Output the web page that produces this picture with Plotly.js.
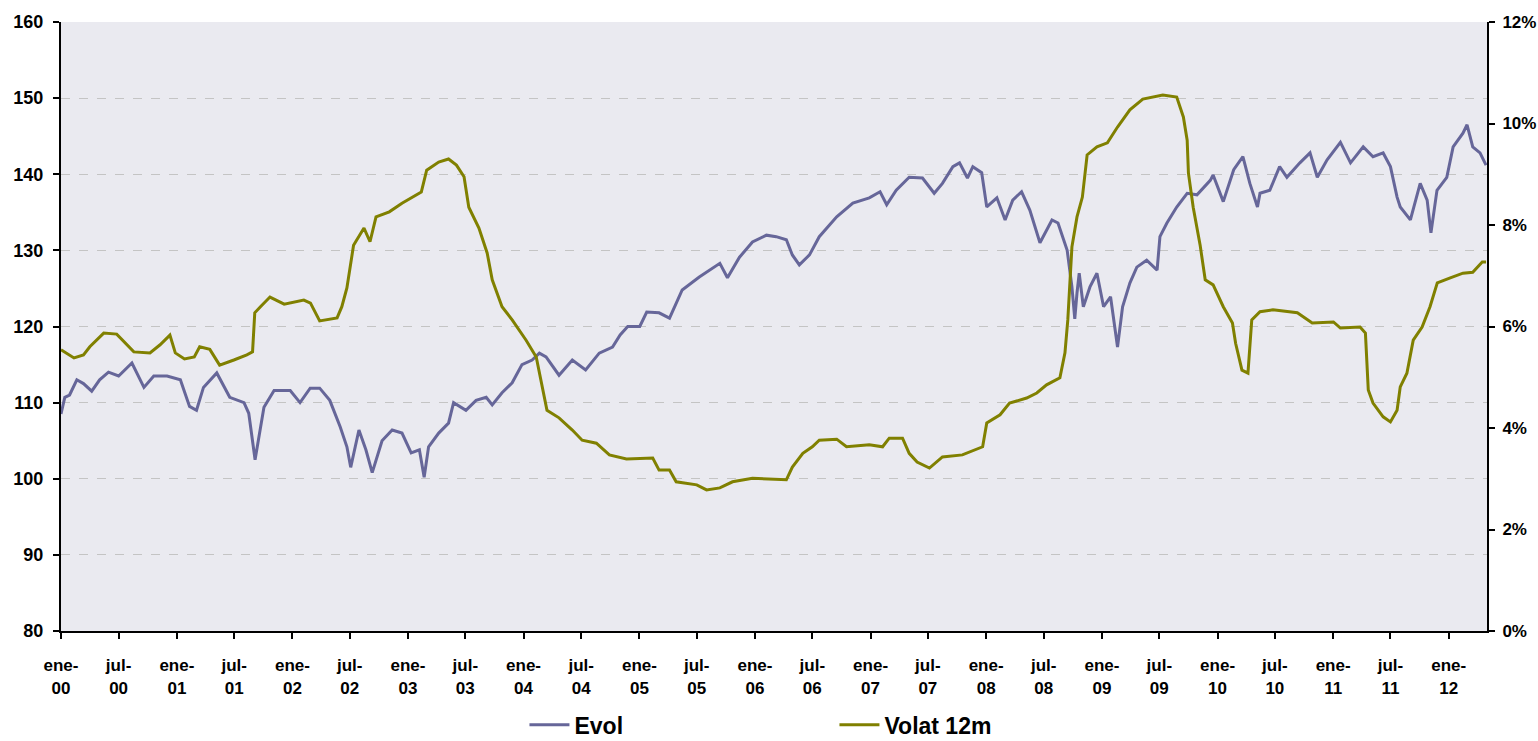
<!DOCTYPE html>
<html>
<head>
<meta charset="utf-8">
<script src="https://cdn.plot.ly/plotly-3.0.1.min.js"></script>
<style>html,body{margin:0;padding:0;background:#fff;}#chart{width:1538px;height:741px;}</style>
</head>
<body>
<div id="chart"></div>
<script>
const evolDates = ["2000-01-01","2000-01-13","2000-01-28","2000-02-20","2000-03-12","2000-04-07","2000-05-02","2000-05-30","2000-07-01","2000-08-12","2000-09-19","2000-10-20","2000-12-01","2001-01-12","2001-02-10","2001-03-04","2001-03-26","2001-05-07","2001-06-17","2001-08-01","2001-08-16","2001-09-05","2001-10-03","2001-11-04","2001-12-25","2002-01-25","2002-02-26","2002-03-28","2002-04-29","2002-06-01","2002-06-22","2002-07-04","2002-07-30","2002-08-21","2002-09-10","2002-10-11","2002-11-12","2002-12-13","2003-01-11","2003-02-06","2003-02-21","2003-03-07","2003-04-08","2003-05-09","2003-05-25","2003-07-03","2003-08-04","2003-09-05","2003-09-24","2003-10-25","2003-11-26","2003-12-27","2004-01-28","2004-02-20","2004-03-12","2004-04-22","2004-06-03","2004-07-15","2004-08-27","2004-10-08","2004-11-01","2004-11-25","2005-01-02","2005-01-24","2005-03-04","2005-04-06","2005-05-16","2005-07-09","2005-09-12","2005-10-06","2005-11-13","2005-12-24","2006-02-06","2006-03-09","2006-04-10","2006-04-29","2006-05-21","2006-06-22","2006-07-23","2006-09-16","2006-11-06","2006-12-28","2007-01-31","2007-02-21","2007-03-23","2007-05-03","2007-06-14","2007-07-21","2007-08-16","2007-09-18","2007-10-09","2007-11-03","2007-11-20","2007-12-18","2008-01-03","2008-02-04","2008-03-01","2008-03-25","2008-04-22","2008-05-18","2008-06-19","2008-07-27","2008-08-15","2008-09-13","2008-09-28","2008-10-07","2008-10-14","2008-10-21","2008-11-03","2008-11-24","2008-12-16","2009-01-06","2009-01-28","2009-02-19","2009-03-07","2009-03-30","2009-04-21","2009-05-22","2009-06-24","2009-07-03","2009-07-25","2009-08-25","2009-09-27","2009-10-28","2009-12-09","2009-12-18","2010-01-19","2010-02-21","2010-03-22","2010-04-13","2010-05-07","2010-05-15","2010-06-15","2010-07-16","2010-08-08","2010-09-18","2010-10-20","2010-11-12","2010-12-13","2011-01-24","2011-02-25","2011-04-06","2011-05-07","2011-06-08","2011-07-01","2011-07-22","2011-08-01","2011-09-02","2011-10-03","2011-10-25","2011-11-06","2011-11-25","2011-12-26","2012-01-15","2012-02-15","2012-02-28","2012-03-17","2012-04-09","2012-04-28"];
const evolValues = [108.5,110.7,111,113,112.5,111.5,113,114,113.5,115.2,112,113.5,113.5,113,109.5,109,112,113.9,110.7,110,108.6,102.5,109.4,111.6,111.6,110,111.9,111.9,110.3,106.8,104.2,101.5,106.4,103.8,100.8,105,106.4,106,103.4,103.8,100.2,104.2,106,107.3,110,109,110.3,110.7,109.7,111.3,112.6,115,115.6,116.5,116,113.6,115.6,114.3,116.5,117.3,118.9,120,120,121.9,121.8,121.1,124.8,126.5,128.3,126.4,129.1,131.1,132,131.8,131.4,129.4,128.1,129.4,131.8,134.4,136.2,136.9,137.7,136,137.9,139.6,139.5,137.5,138.8,141,141.5,139.5,141,140.2,135.7,136.9,134,136.6,137.7,135.3,131,134,133.6,130,125.2,121,124.4,127,122.6,125.2,127,122.6,123.9,117.3,122.6,125.7,127.8,128.7,127.4,131.8,133.6,135.7,137.5,137.3,139.2,139.9,136.4,140.6,142.3,138.8,135.7,137.5,137.9,141,139.6,141.5,142.8,139.6,141.9,144.2,141.5,143.6,142.3,142.8,141,137,135.7,134,138.8,136.6,132.3,137.9,139.6,143.6,145.4,146.5,143.6,142.8,141.2];

const volatDates = ["2000-01-01","2000-02-11","2000-03-12","2000-04-01","2000-05-15","2000-06-25","2000-08-18","2000-10-08","2000-11-09","2000-12-10","2000-12-27","2001-01-25","2001-02-25","2001-03-14","2001-04-15","2001-05-16","2001-06-30","2001-08-10","2001-08-28","2001-09-04","2001-09-22","2001-10-22","2001-12-06","2002-02-06","2002-02-27","2002-03-28","2002-05-22","2002-06-06","2002-06-22","2002-07-13","2002-08-15","2002-09-03","2002-09-22","2002-11-03","2002-12-13","2003-02-12","2003-03-01","2003-04-08","2003-05-09","2003-06-03","2003-06-27","2003-07-12","2003-08-13","2003-09-08","2003-09-24","2003-10-25","2003-11-26","2004-01-09","2004-02-10","2004-03-01","2004-03-15","2004-04-22","2004-06-03","2004-07-04","2004-08-18","2004-09-28","2004-11-21","2005-02-12","2005-03-04","2005-04-06","2005-04-27","2005-07-01","2005-08-01","2005-09-12","2005-10-22","2005-12-24","2006-02-17","2006-04-10","2006-04-29","2006-06-01","2006-07-01","2006-07-23","2006-09-16","2006-10-17","2006-12-28","2007-02-08","2007-03-01","2007-04-12","2007-05-03","2007-05-28","2007-07-06","2007-08-16","2007-10-18","2007-12-21","2008-01-03","2008-02-14","2008-03-15","2008-05-08","2008-06-09","2008-07-10","2008-08-21","2008-09-06","2008-09-15","2008-09-28","2008-10-14","2008-10-31","2008-11-15","2008-12-16","2009-01-18","2009-02-19","2009-03-30","2009-05-10","2009-07-12","2009-08-25","2009-09-15","2009-09-27","2009-10-01","2009-10-16","2009-11-07","2009-11-23","2009-12-18","2010-01-19","2010-02-17","2010-02-27","2010-03-19","2010-04-07","2010-04-19","2010-05-15","2010-06-25","2010-09-10","2010-10-27","2011-01-02","2011-01-24","2011-03-27","2011-04-13","2011-04-22","2011-05-07","2011-06-08","2011-07-01","2011-07-22","2011-08-01","2011-08-22","2011-09-11","2011-10-09","2011-11-03","2011-11-26","2012-01-06","2012-02-15","2012-03-17","2012-04-16","2012-04-28"];
const volatValues = [5.54,5.38,5.44,5.6,5.87,5.85,5.5,5.48,5.64,5.83,5.48,5.36,5.4,5.6,5.55,5.24,5.34,5.44,5.5,6.27,6.39,6.58,6.44,6.52,6.46,6.11,6.17,6.39,6.76,7.6,7.94,7.67,8.16,8.26,8.43,8.65,9.08,9.24,9.3,9.18,8.95,8.35,7.94,7.45,6.92,6.39,6.13,5.73,5.4,4.75,4.35,4.2,3.96,3.76,3.7,3.47,3.39,3.41,3.17,3.17,2.94,2.88,2.78,2.82,2.94,3.01,2.99,2.98,3.23,3.5,3.63,3.76,3.78,3.63,3.67,3.63,3.8,3.8,3.5,3.33,3.21,3.43,3.47,3.63,4.1,4.26,4.49,4.59,4.69,4.85,4.99,5.48,6.13,7.57,8.16,8.55,9.38,9.54,9.62,9.93,10.27,10.48,10.56,10.52,10.13,9.67,9.02,8.35,7.6,6.92,6.82,6.39,6.07,5.67,5.14,5.08,6.13,6.29,6.33,6.27,6.07,6.09,5.97,5.99,5.87,4.75,4.49,4.22,4.12,4.35,4.81,5.08,5.73,5.99,6.39,6.86,6.96,7.05,7.07,7.27,7.27];

const tickVals = ["2000-01-01","2000-07-01","2001-01-01","2001-07-01","2002-01-01","2002-07-01","2003-01-01","2003-07-01","2004-01-01","2004-07-01","2005-01-01","2005-07-01","2006-01-01","2006-07-01","2007-01-01","2007-07-01","2008-01-01","2008-07-01","2009-01-01","2009-07-01","2010-01-01","2010-07-01","2011-01-01","2011-07-01","2012-01-01"];
const tickText = ["ene-<br>00","jul-<br>00","ene-<br>01","jul-<br>01","ene-<br>02","jul-<br>02","ene-<br>03","jul-<br>03","ene-<br>04","jul-<br>04","ene-<br>05","jul-<br>05","ene-<br>06","jul-<br>06","ene-<br>07","jul-<br>07","ene-<br>08","jul-<br>08","ene-<br>09","jul-<br>09","ene-<br>10","jul-<br>10","ene-<br>11","jul-<br>11","ene-<br>12"];

const FONT = '"Liberation Sans", Arial, sans-serif';

const traces = [
  {x: evolDates, y: evolValues, name: 'Evol', type: 'scatter', mode: 'lines',
   line: {color: '#666699', width: 3}, yaxis: 'y'},
  {x: volatDates, y: volatValues.map(v => v / 100), name: 'Volat 12m', type: 'scatter', mode: 'lines',
   line: {color: '#808000', width: 3}, yaxis: 'y2'}
];

const layout = {
  width: 1538, height: 741,
  margin: {l: 61, r: 51, t: 22, b: 110},
  paper_bgcolor: '#ffffff',
  plot_bgcolor: '#EAEAF0',
  showlegend: true,
  legend: {orientation: 'h', x: 0.325, xanchor: 'left',
           yref: 'container', y: 0.022, yanchor: 'middle',
           itemwidth: 40, entrywidth: 255, entrywidthmode: 'pixels', tracegroupgap: 0,
           font: {family: FONT, size: 23, color: '#000', weight: 'bold'}, bgcolor: 'rgba(0,0,0,0)'},
  xaxis: {type: 'date', range: ['2000-01-01', '2012-05-01'], automargin: false,
          tickvals: tickVals, ticktext: tickText, ticklabelstandoff: 12,
          tickfont: {family: FONT, size: 17, color: '#000', weight: 'bold'},
          showgrid: false, zeroline: false,
          showline: true, linecolor: '#000', linewidth: 2,
          ticks: 'outside', ticklen: 6, tickwidth: 2, tickcolor: '#000'},
  yaxis: {range: [80, 160], dtick: 10, tick0: 80, automargin: false, ticklabelstandoff: 6,
          tickfont: {family: FONT, size: 18, color: '#000', weight: 'bold'},
          showgrid: true, gridcolor: '#C4C4C4', griddash: 'dash', gridwidth: 1,
          zeroline: false, showline: true, linecolor: '#000', linewidth: 2,
          ticks: 'outside', ticklen: 6, tickwidth: 2, tickcolor: '#000'},
  yaxis2: {range: [0, 0.12], dtick: 0.02, tick0: 0, tickformat: '.0%', automargin: false,
           overlaying: 'y', side: 'right', ticklabelstandoff: 4,
           tickfont: {family: FONT, size: 17, color: '#000', weight: 'bold'},
           showgrid: false, zeroline: false, showline: true, linecolor: '#000', linewidth: 2,
           ticks: 'outside', ticklen: 6, tickwidth: 2, tickcolor: '#000'}
};

Plotly.newPlot('chart', traces, layout, {displayModeBar: false, staticPlot: true});
</script>
</body>
</html>
